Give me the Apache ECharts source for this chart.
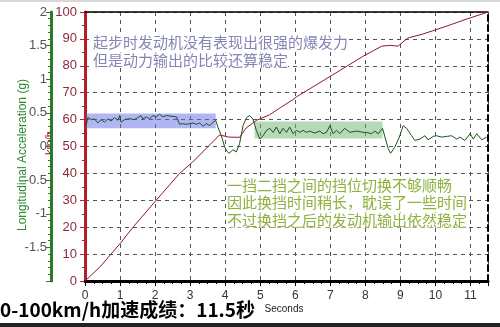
<!DOCTYPE html>
<html><head><meta charset="utf-8">
<script src="https://cdn.jsdelivr.net/npm/echarts@6/dist/echarts.min.js"></script>
<style>html,body{margin:0;padding:0;background:#fff}#c{width:500px;height:327px}</style>
</head><body><div id="c"></div>
<script>
// ---- data ----
const xTicks = [0,1,2,3,4,5,6,7,8,9,10,11];
const speedTime = [0,0.41,1.0,1.37,2.03,2.7,3.07,3.84,4.1,4.41,4.6,4.89,5.27,5.57,5.93,6.04,6.99,7.93,8.47,8.7,8.93,9.21,9.64,10.33,10.9,11.5];
const speedKmh  = [0,5,13.9,20,30,40,44.2,54.3,53.5,53.4,56.9,59.7,61.8,64.4,67.4,68.5,76,83.5,87.3,87.6,87.3,90.3,91.8,94.8,97.4,100];
const accTime = [0.03,0.08,0.18,0.27,0.37,0.46,0.56,0.65,0.75,0.84,0.94,0.99,1.03,1.13,1.22,1.32,1.41,1.51,1.60,1.65,1.75,1.84,1.94,2.03,2.13,2.22,2.32,2.46,2.61,2.70,2.79,2.89,2.99,3.08,3.18,3.27,3.37,3.46,3.56,3.65,3.73,3.79,3.89,3.99,4.05,4.11,4.22,4.32,4.41,4.51,4.61,4.70,4.79,4.89,4.99,5.08,5.18,5.27,5.37,5.46,5.56,5.65,5.75,5.84,5.94,6.03,6.13,6.22,6.32,6.41,6.56,6.70,6.79,6.89,6.99,7.08,7.18,7.27,7.41,7.56,7.75,7.94,8.03,8.18,8.27,8.37,8.49,8.56,8.65,8.72,8.84,8.97,9.08,9.18,9.32,9.41,9.56,9.70,9.79,9.94,10.03,10.18,10.32,10.46,10.61,10.70,10.84,10.99,11.08,11.18,11.32,11.46];
const accG    = [0.31,0.43,0.40,0.41,0.35,0.40,0.36,0.41,0.38,0.43,0.39,0.46,0.36,0.40,0.41,0.41,0.40,0.43,0.46,0.41,0.44,0.41,0.46,0.44,0.48,0.44,0.46,0.45,0.44,0.33,0.34,0.33,0.34,0.35,0.33,0.35,0.30,0.34,0.31,0.36,0.39,0.29,0.16,-0.01,-0.07,-0.10,-0.05,-0.08,0.04,0.31,0.43,0.46,0.41,0.24,0.11,0.16,0.24,0.27,0.21,0.29,0.19,0.27,0.21,0.29,0.19,0.24,0.21,0.24,0.21,0.23,0.20,0.23,0.19,0.21,0.31,0.19,0.24,0.19,0.27,0.21,0.23,0.21,0.21,0.19,0.23,0.19,0.27,0.14,-0.03,-0.10,-0.01,0.14,0.31,0.27,0.16,0.09,0.11,0.16,0.10,0.15,0.16,0.14,0.15,0.16,0.11,0.14,0.09,0.19,0.11,0.19,0.10,0.14];
const blueBox  = [[0.04, 0.49], [3.73, 0.27]];
const greenBox = [[4.84, 0.37], [8.49, 0.12]];
const titleText = '0-100km/h加速成绩：11.5秒';
const note1 = ['起步时发动机没有表现出很强的爆发力', '但是动力输出的比较还算稳定'];
const note2 = ['一挡二挡之间的挡位切换不够顺畅', '因此换挡时间稍长，耽误了一些时间', '不过换挡之后的发动机输出依然稳定'];

const speedData = speedTime.map((t,i)=>[t, speedKmh[i]]);
const accData = accTime.map((t,i)=>[t, accG[i]]);
const cjk = '"Noto Sans CJK SC", sans-serif';
const lat = '"Liberation Sans", Arial, sans-serif';

const noteEls = [];
note1.forEach((s,i)=>noteEls.push({type:'text', x:93, y:42+i*18, z:10,
  style:{text:s, fill:'#8585b5', font:'15px '+cjk, verticalAlign:'middle', backgroundColor:'#fff'}}));
note2.forEach((s,i)=>noteEls.push({type:'text', x:227, y:185+i*17.5, z:10,
  style:{text:s, fill:'#8db23f', font:'15px '+cjk, verticalAlign:'middle', backgroundColor:'#fff'}}));

const chart = echarts.init(document.getElementById('c'), null, {renderer:'canvas'});
chart.setOption({
  animation:false,
  backgroundColor:'#fff',
  grid:{left:85, right:12, top:12, bottom:46},
  xAxis:[{
    type:'value', min:0, max:11.5, interval:1, position:'bottom',
    axisLine:{show:true, lineStyle:{color:'#000', width:3}},
    axisTick:{show:true, length:5, lineStyle:{color:'#000'}},
    minorTick:{show:true, splitNumber:4, length:3, lineStyle:{color:'#000'}},
    axisLabel:{color:'#333', fontSize:12, fontFamily:lat, margin:9, showMaxLabel:false,
      formatter:v=> xTicks.indexOf(v)>=0 ? String(v) : ''},
    splitLine:{show:true, lineStyle:{color:'#555', type:[4,4], width:1}}
  },{
    type:'value', min:0, max:11.5, position:'top',
    axisLine:{show:true, onZero:false, lineStyle:{color:'#000', width:1.5}},
    axisTick:{show:false}, axisLabel:{show:false}, splitLine:{show:false}
  }],
  yAxis:[{
    type:'value', min:0, max:100, interval:10, position:'left',
    axisLine:{show:true, lineStyle:{color:'#b3202a', width:3}},
    axisTick:{show:true, length:5, lineStyle:{color:'#b3202a'}},
    minorTick:{show:true, splitNumber:2, length:3, lineStyle:{color:'#b3202a'}},
    axisLabel:{color:'#8b2a3a', fontSize:13, fontFamily:lat, margin:8},
    splitLine:{show:true, lineStyle:{color:'#555', type:[4,4], width:1}}
  },{
    type:'value', min:-2, max:2, interval:0.5, position:'left', offset:34,
    axisLine:{show:true, onZero:false, lineStyle:{color:'#2a7a2a', width:3}},
    axisTick:{show:true, length:5, lineStyle:{color:'#2a7a2a'}},
    minorTick:{show:true, splitNumber:5, length:3, lineStyle:{color:'#2a7a2a'}},
    axisLabel:{color:'#555', fontSize:13, fontFamily:lat, margin:4,
      formatter:v=> v===-2 ? '' : String(v)},
    splitLine:{show:false}
  },{
    type:'value', min:0, max:100, position:'right',
    axisLine:{show:true, onZero:false, lineStyle:{color:'#000', width:2, type:[6,4]}},
    axisTick:{show:false}, axisLabel:{show:false}, splitLine:{show:false}
  }],
  series:[{
    type:'line', xAxisIndex:0, yAxisIndex:1, data:accData, symbol:'none',
    lineStyle:{color:'#1f4f1f', width:1}, z:3,
    markArea:{silent:true, data:[
      [{coord:blueBox[0], itemStyle:{color:'rgba(100,110,232,0.5)'}},{coord:blueBox[1]}],
      [{coord:greenBox[0], itemStyle:{color:'rgba(110,180,110,0.5)'}},{coord:greenBox[1]}]
    ]}
  },{
    type:'line', xAxisIndex:0, yAxisIndex:0, data:speedData, symbol:'none',
    lineStyle:{color:'#8b1a2a', width:1}, z:4
  }],
  graphic:[
    {type:'rect', left:0, top:0, shape:{width:500, height:2}, style:{fill:'#d8d8d8'}, silent:true},
    {type:'rect', left:0, top:323, shape:{width:500, height:4}, style:{fill:'#222'}, silent:true},
    ...noteEls,
    {type:'text', x:0, y:310, z:10, style:{text:titleText, fill:'#000', font:'bold 19px '+cjk, verticalAlign:'middle'}},
    {type:'text', x:284, y:309, z:10, style:{text:'Seconds', fill:'#222', font:'10px '+lat, align:'center', verticalAlign:'middle'}},
    {type:'text', x:23, y:155, rotation:Math.PI/2, z:10, style:{text:'Longitudinal Acceleration (g)', fill:'#2e8b2e', font:'12px '+lat, align:'center', verticalAlign:'middle'}},
    {type:'text', x:50, y:143, rotation:Math.PI/2, z:0, style:{text:'km/h', fill:'#a02030', font:'11px '+lat, align:'center', verticalAlign:'middle'}}
  ]
});
</script></body></html>
